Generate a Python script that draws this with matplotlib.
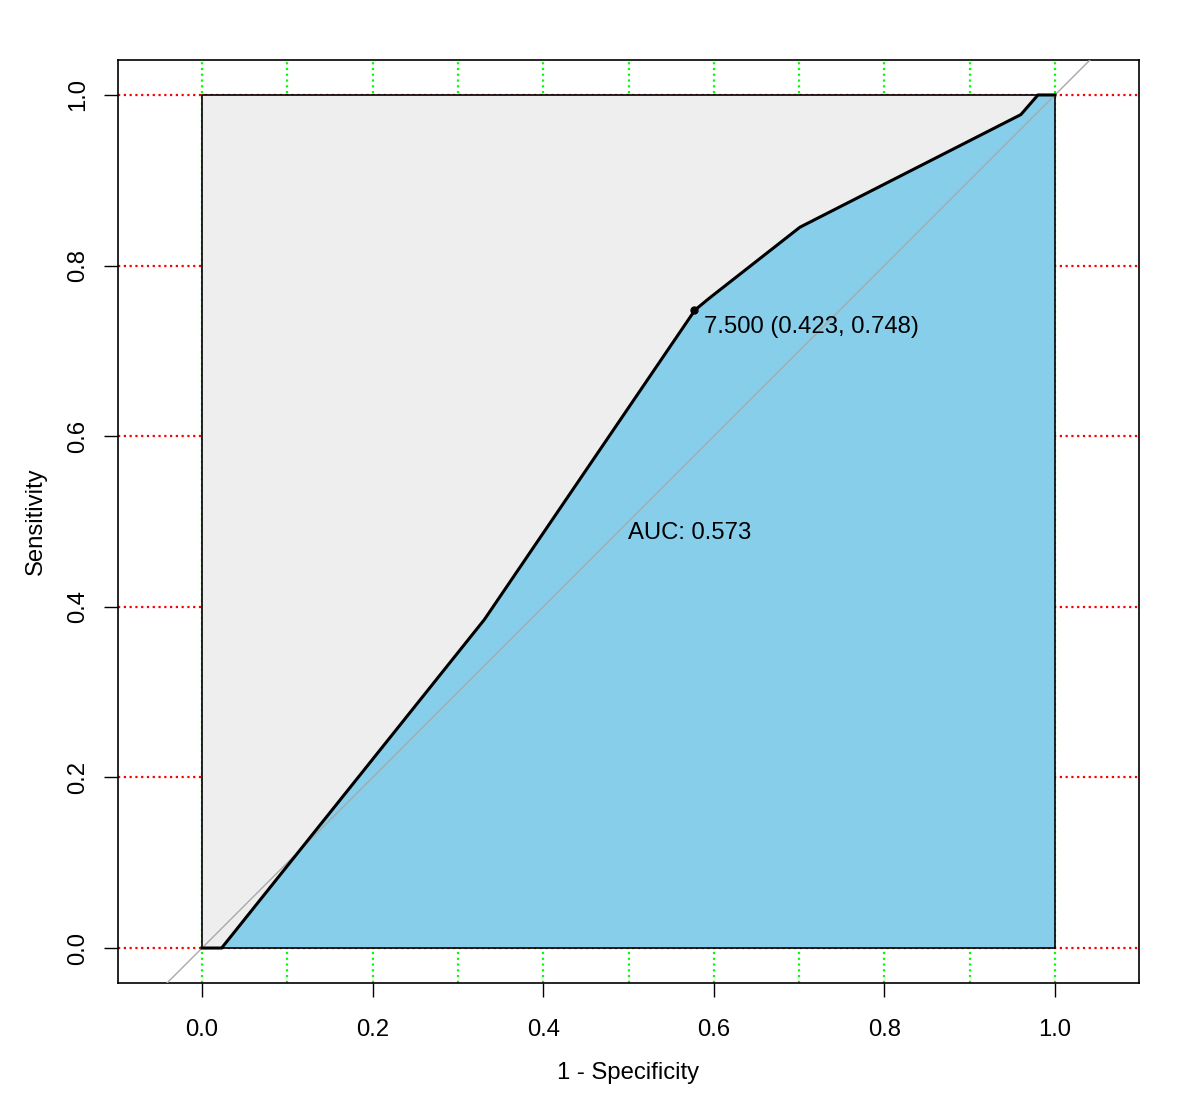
import matplotlib
matplotlib.use("Agg")
import matplotlib.pyplot as plt
from matplotlib.patches import Polygon, Rectangle
import numpy as np

plt.rcParams['font.family'] = ['Liberation Sans', 'DejaVu Sans']

# ROC curve (1 - specificity, sensitivity)
fpr = [0.0, 0.023, 0.331, 0.578, 0.595, 0.701, 0.960, 0.980, 1.0]
tpr = [0.0, 0.0, 0.385, 0.748, 0.762, 0.845, 0.977, 1.0, 1.0]
thr_label = "7.500 (0.423, 0.748)"
thr_point = (0.577, 0.748)
auc_label = "AUC: 0.573"
xticks = [0.0, 0.2, 0.4, 0.6, 0.8, 1.0]
yticks = [0.0, 0.2, 0.4, 0.6, 0.8, 1.0]
vgrid = [0.0, 0.1, 0.2, 0.3, 0.4, 0.5, 0.6, 0.7, 0.8, 0.9, 1.0]
hgrid = [0.0, 0.2, 0.4, 0.6, 0.8, 1.0]

FS = 17.2

fig = plt.figure(figsize=(12, 11.01), dpi=100)
ax = fig.add_axes([118/1200, 1-983/1101, (1139-118)/1200, (983-60)/1101])
ax.set_xlim(-0.0985, 1.0985)
ax.set_ylim(-0.041, 1.041)

dot = (0, (1, 1.6))
for v in vgrid:
    ax.axvline(v, color='#00ff00', linestyle=dot, linewidth=1.6, zorder=1)
for h in hgrid:
    ax.axhline(h, color='#ff0000', linestyle=dot, linewidth=1.6, zorder=1)

# max AUC polygon (grey) and AUC polygon (skyblue)
ax.add_patch(Rectangle((0, 0), 1, 1, facecolor='#EEEEEE', edgecolor='none', zorder=2))
poly = list(zip(fpr, tpr)) + [(1.0, 0.0)]
ax.add_patch(Polygon(poly, closed=True, facecolor='#87CEEB', edgecolor='none', zorder=3))
ax.add_patch(Rectangle((0, 0), 1, 1, facecolor='none', edgecolor='black', linewidth=1.2, zorder=4))

# identity line
ax.axline((0, 0), (1, 1), color='#A9A9A9', linewidth=1.0, zorder=5)

# ROC curve
ax.plot(fpr, tpr, color='black', linewidth=2.2, zorder=6, solid_joinstyle='round')
ax.plot([thr_point[0]], [thr_point[1]], 'o', color='black', markersize=5, zorder=7)
ax.annotate(thr_label, xy=thr_point, xytext=(7, -12.5), textcoords='offset points',
            ha='left', va='center', fontsize=FS, zorder=8)
ax.text(0.5, 0.486, auc_label, ha='left', va='center', fontsize=FS, zorder=8)

ax.set_xticks(xticks)
ax.set_xticklabels([f"{t:.1f}" for t in xticks])
ax.set_yticks(yticks)
ax.set_yticklabels([f"{t:.1f}" for t in yticks], rotation=90, va='center')
ax.tick_params(axis='both', direction='out', length=10, width=1.0, labelsize=FS)
ax.tick_params(axis='x', pad=16)
ax.tick_params(axis='y', pad=11)
for s in ax.spines.values():
    s.set_linewidth(1.2)

ax.set_xlabel("1 - Specificity", fontsize=FS, labelpad=15)
ax.set_ylabel("Sensitivity", fontsize=FS, labelpad=14)

fig.savefig("out.png", dpi=100)
